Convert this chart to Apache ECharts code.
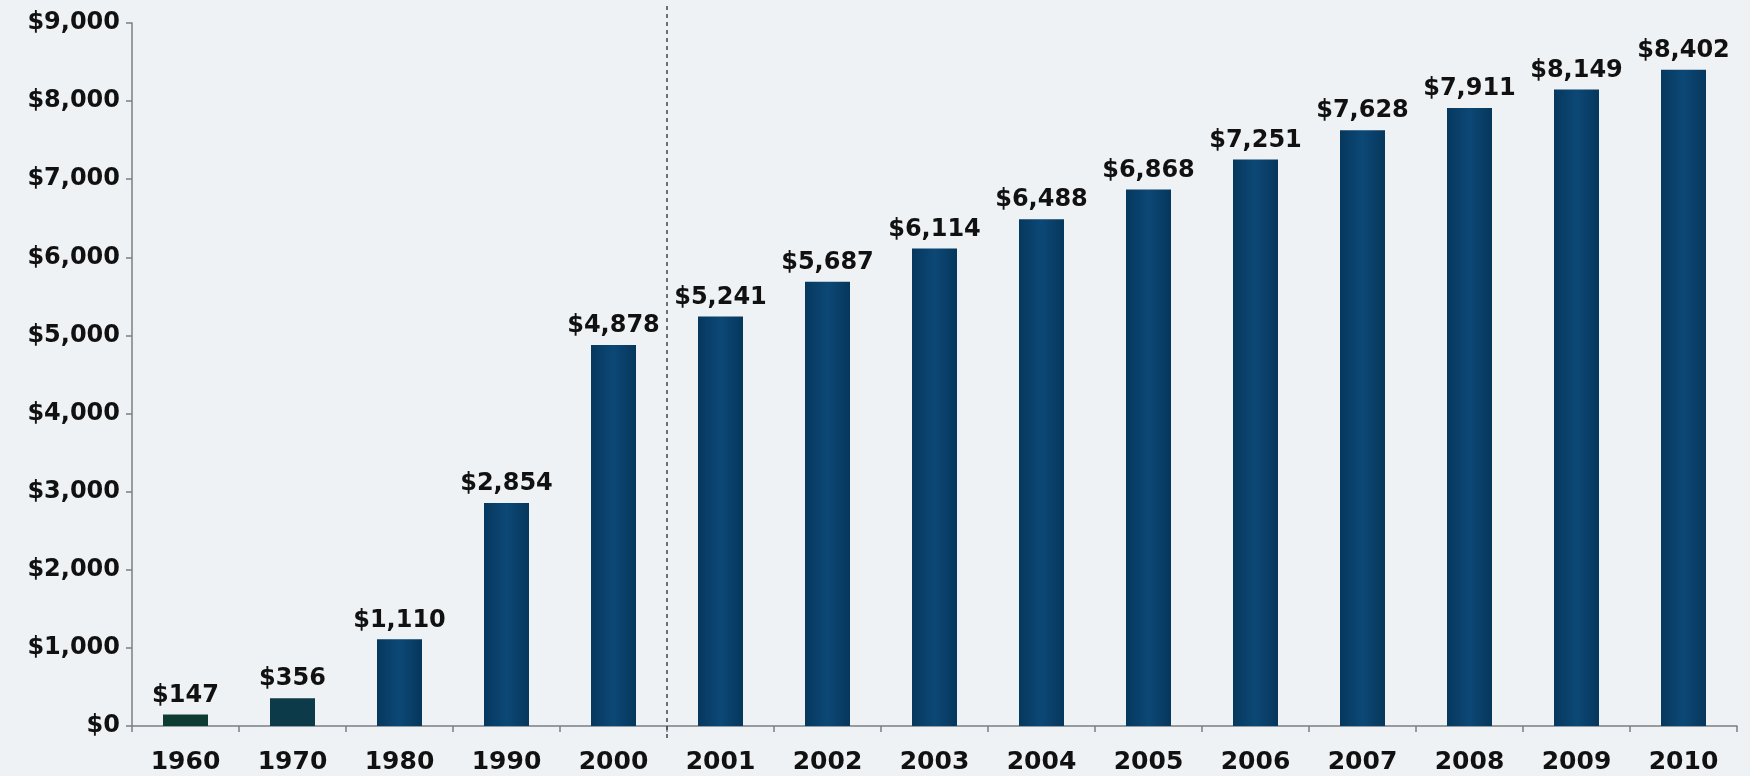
<!DOCTYPE html>
<html>
<head>
<meta charset="utf-8">
<script src="https://cdn.jsdelivr.net/npm/echarts@6/dist/echarts.min.js"></script>
<style>
  html, body { margin: 0; padding: 0; background: #eef2f5; }
  #chart { width: 1750px; height: 776px; }
</style>
</head>
<body>
<div id="chart"></div>
<script>
// Years shown along the bottom
const years = ['1960', '1970', '1980', '1990', '2000', '2001', '2002', '2003', '2004', '2005', '2006', '2007', '2008', '2009', '2010'];
// Dollar amount per year
const amounts = [147, 356, 1110, 2854, 4878, 5241, 5687, 6114, 6488, 6868, 7251, 7628, 7911, 8149, 8402];
// Value axis range
const yMin = 0;
const yMax = 9000;
const yStep = 1000;
// Boundary (in category slots) where the decade data ends and the annual data begins
const separatorAt = 5;

const fmtDollar = v => '$' + Math.round(v).toLocaleString('en-US');

const barFill = new echarts.graphic.LinearGradient(0, 0, 1, 0, [
  { offset: 0, color: '#06385e' },
  { offset: 0.5, color: '#0c4876' },
  { offset: 1, color: '#06375c' }
]);
const earlyFill = ['#0f3b35', '#0d3a48'];

const chart = echarts.init(document.getElementById('chart'), null, { renderer: 'canvas' });
chart.setOption({
  backgroundColor: '#eef2f5',
  animation: false,
  grid: [
    { left: 132, right: 13, top: 23, bottom: 50, containLabel: false },
    // taller overlay band so the separator runs past the plot edges
    { left: 132, right: 13, top: 6, bottom: 38, containLabel: false }
  ],
  xAxis: [{
    type: 'category',
    data: years,
    boundaryGap: true,
    axisLine: { lineStyle: { color: '#7a7f85', width: 1.5 } },
    axisTick: { show: true, length: 6, lineStyle: { color: '#7a7f85', width: 1.5 } },
    axisLabel: {
      color: '#111',
      fontFamily: 'DejaVu Sans',
      fontWeight: 'bold',
      fontSize: 25,
      margin: 24
    },
    splitLine: { show: false }
  }, {
    // slot-based axis used only to place the separator line
    type: 'value',
    gridIndex: 1,
    min: 0,
    max: years.length,
    show: false
  }],
  yAxis: [{
    type: 'value',
    min: yMin,
    max: yMax,
    interval: yStep,
    axisLine: { show: true, lineStyle: { color: '#7a7f85', width: 1.5 } },
    axisTick: { show: true, length: 6, lineStyle: { color: '#7a7f85', width: 1.5 } },
    splitLine: { show: false },
    axisLabel: {
      color: '#111',
      fontFamily: 'DejaVu Sans',
      fontWeight: 'bold',
      fontSize: 24,
      margin: 12,
      formatter: fmtDollar
    }
  }, {
    type: 'value',
    gridIndex: 1,
    min: 0,
    max: 1,
    show: false
  }],
  series: [{
    type: 'bar',
    data: amounts.map((v, i) => ({
      value: v,
      itemStyle: { color: i < earlyFill.length ? earlyFill[i] : barFill }
    })),
    barWidth: 45,
    label: {
      show: true,
      position: 'top',
      distance: 7,
      color: '#111',
      fontFamily: 'DejaVu Sans',
      fontWeight: 'bold',
      fontSize: 24,
      formatter: p => fmtDollar(p.value)
    }
  }, {
    type: 'line',
    xAxisIndex: 1,
    yAxisIndex: 1,
    data: [],
    silent: true,
    markLine: {
      symbol: 'none',
      silent: true,
      label: { show: false },
      lineStyle: { color: '#444', type: [4, 4], width: 1.5 },
      data: [{ xAxis: separatorAt }]
    }
  }]
});
</script>
</body>
</html>
